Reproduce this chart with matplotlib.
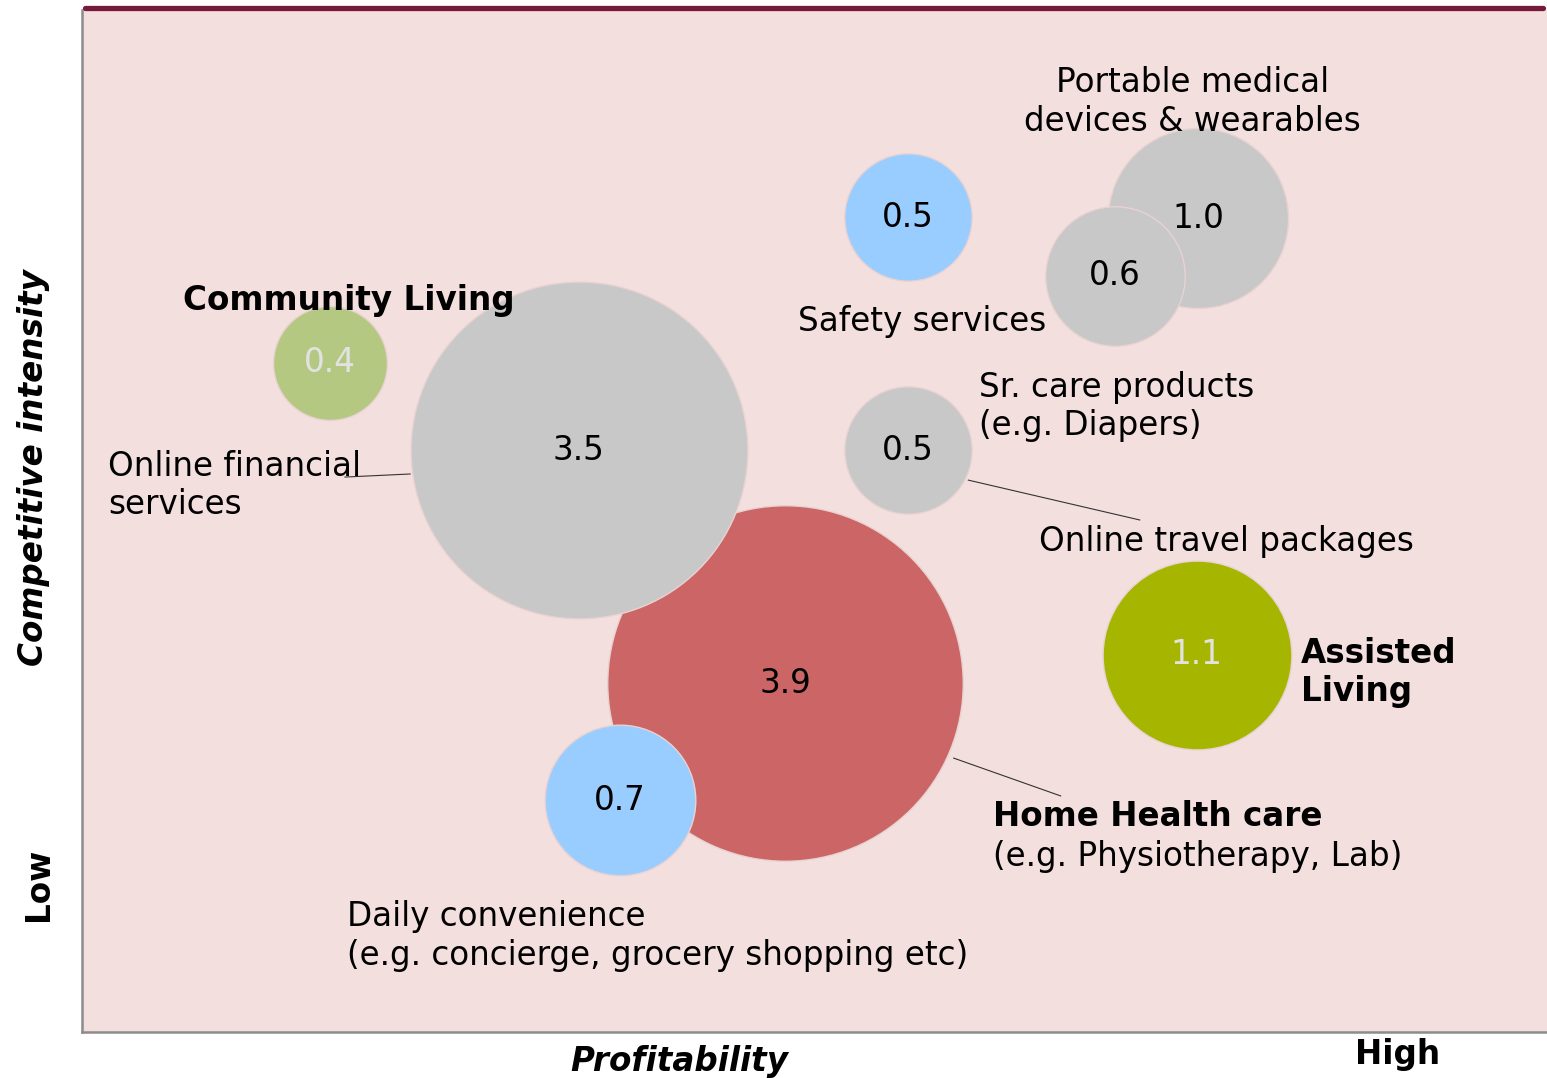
import numpy as np
import matplotlib
matplotlib.use("Agg")
import matplotlib.pyplot as plt

plt.rcParams['font.family'] = ['DejaVu Sans']

# Bubble data: position on profitability (x) / competitive intensity (y), size = market value
names = ["Safety services", "Portable medical devices", "Portable (small)", "Community Living",
         "Online financial services", "Sr. care products", "Home Health care",
         "Assisted Living", "Daily convenience"]
profitability = [56.4, 76.2, 70.5, 16.9, 33.9, 56.4, 48.0, 76.1, 36.7]
intensity = [79.7, 79.6, 74.0, 65.5, 56.9, 56.9, 34.1, 36.9, 22.7]
values = [0.5, 1.0, 0.6, 0.4, 3.5, 0.5, 3.9, 1.1, 0.7]
colors = ["#99CCFF", "#C8C8C8", "#C8C8C8", "#B5C882", "#C8C8C8", "#C8C8C8",
          "#CC6666", "#A5B500", "#99CCFF"]
text_colors = ["black", "black", "black", "#E2E2E2", "black", "black",
               "black", "#E2E2E2", "black"]
# draw order (later on top)
order = [6, 4, 8, 0, 1, 2, 3, 5, 7]

fig = plt.figure(figsize=(15.47, 10.78), dpi=100)
ax = fig.add_axes([82 / 1547, 46 / 1078, 1465 / 1547, 1022 / 1078])
ax.set_facecolor("#F4DFDF")
ax.set_xlim(0, 100)
ax.set_ylim(0, 100)
ax.set_xticks([])
ax.set_yticks([])
for side in ["top", "right"]:
    ax.spines[side].set_visible(False)
for side in ["left", "bottom"]:
    ax.spines[side].set_color("#8C8C8C")
    ax.spines[side].set_linewidth(1.8)

# top maroon rule
ax.plot([0.2, 99.7], [100.2, 100.2], color="#741B3A", lw=3.8, solid_capstyle="round",
        clip_on=False, zorder=5)

fs = 23.5
ls = 1.2
for i in order:
    ax.scatter(profitability[i], intensity[i], s=values[i] * 16800, color=colors[i],
               edgecolors="#E8D2D2", linewidths=1.0, zorder=2)
    ax.text(profitability[i], intensity[i], f"{values[i]:.1f}", ha="center", va="center",
            fontsize=fs, color=text_colors[i], zorder=3)

# leader lines
ax.plot([17.95, 22.4], [54.3, 54.6], color="#333333", lw=0.8, zorder=1)
ax.plot([60.5, 72.2], [54.0, 50.1], color="#333333", lw=0.8, zorder=1)
ax.plot([59.5, 66.8], [26.8, 23.1], color="#333333", lw=0.8, zorder=1)

# labels
ax.text(75.8, 91.0, "Portable medical\ndevices & wearables", ha="center", va="center",
        fontsize=fs, linespacing=ls, zorder=4)
ax.text(48.9, 69.5, "Safety services", ha="left", va="center", fontsize=fs, zorder=4)
ax.text(6.9, 71.6, "Community Living", ha="left", va="center", fontsize=fs,
        fontweight="bold", zorder=4)
ax.text(1.8, 53.5, "Online financial\nservices", ha="left", va="center", fontsize=fs,
        linespacing=ls, zorder=4)
ax.text(61.2, 61.2, "Sr. care products\n(e.g. Diapers)", ha="left", va="center",
        fontsize=fs, linespacing=ls, zorder=4)
ax.text(65.3, 48.0, "Online travel packages", ha="left", va="center", fontsize=fs, zorder=4)
ax.text(83.2, 35.2, "Assisted\nLiving", ha="left", va="center", fontsize=fs,
        fontweight="bold", linespacing=ls, zorder=4)
ax.text(62.2, 21.1, "Home Health care", ha="left", va="center", fontsize=fs,
        fontweight="bold", zorder=4)
ax.text(62.2, 17.2, "(e.g. Physiotherapy, Lab)", ha="left", va="center", fontsize=fs,
        zorder=4)
ax.text(18.1, 9.4, "Daily convenience\n(e.g. concierge, grocery shopping etc)", ha="left",
        va="center", fontsize=fs, linespacing=ls, zorder=4)

# axis titles
ax.text(-3.34, 55.2, "Competitive intensity", rotation=90, ha="center", va="center",
        fontsize=fs, fontweight="bold", fontstyle="italic", clip_on=False)
ax.text(-3.0, 14.4, "Low", rotation=90, ha="center", va="center", fontsize=fs,
        fontweight="bold", clip_on=False)
ax.text(40.8, -2.9, "Profitability", ha="center", va="center", fontsize=fs,
        fontweight="bold", fontstyle="italic", clip_on=False)
ax.text(89.8, -2.25, "High", ha="center", va="center", fontsize=fs,
        fontweight="bold", clip_on=False)

fig.savefig("out.png", dpi=100)
